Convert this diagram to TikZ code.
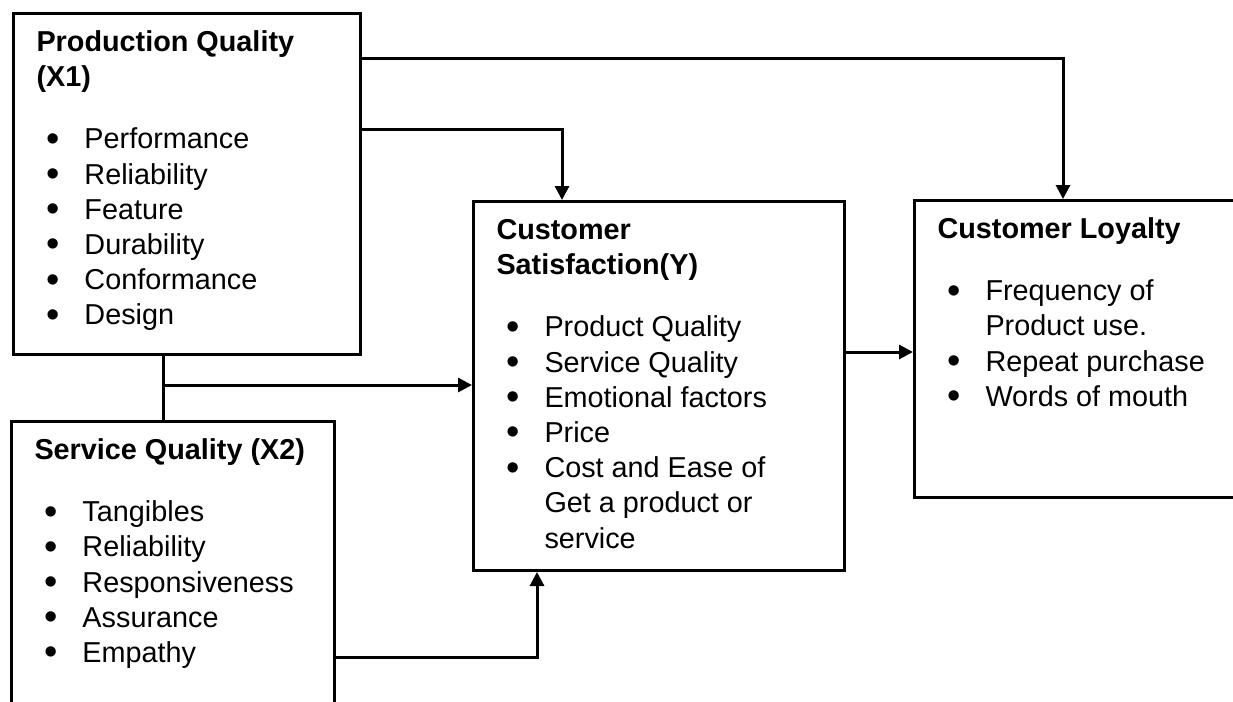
\documentclass[tikz,border=0pt]{standalone}
\usepackage{fontspec}
\setmainfont{Liberation Sans}
\usetikzlibrary{arrows.meta, calc}

\newcommand{\boxbody}[3]{\parbox[t][#1][t]{#2}{\fontsize{14.4pt}{17.6pt}\selectfont\raggedright\parskip=0pt #3}}
\newcommand{\boxtitle}[1]{\rule{0pt}{19pt}\textbf{#1}\par\vspace{13.5pt}}
\newcommand{\bul}[1]{\par\let\\\newline\hangindent=24pt\hangafter=1\noindent
    \makebox[24pt][l]{\hspace{5.2pt}\raisebox{-1.2pt}{\fontsize{19pt}{19pt}\selectfont\textbullet}}#1}

\tikzset{
    block/.style={draw, line width=1.5pt, inner xsep=11.5pt, inner ysep=0pt, anchor=north west},
    link/.style={line width=1.5pt},
    arr/.style={line width=1.5pt, -{Triangle[length=7pt, width=7pt]}}
}

\begin{document}
\begin{tikzpicture}[x=0.5pt, y=-0.5pt]
    \useasboundingbox (0,0) rectangle (1233,702);
    \clip (0,0) rectangle (1233,702);

    % Boxes
    \node[block] (prodq) at (12,12) {\boxbody{170.5pt}{150.5pt}{%
        \boxtitle{Production Quality\\(X1)}
        \bul{Performance}
        \bul{Reliability}
        \bul{Feature}
        \bul{Durability}
        \bul{Conformance}
        \bul{Design}}};

    \node[block] (servq) at (10,420) {\boxbody{170pt}{138.5pt}{%
        \boxtitle{Service Quality (X2)}
        \bul{Tangibles}
        \bul{Reliability}
        \bul{Responsiveness}
        \bul{Assurance}
        \bul{Empathy}}};

    \node[block] (satisf) at (472,200) {\boxbody{184.5pt}{162.5pt}{%
        \boxtitle{Customer\\Satisfaction(Y)}
        \bul{Product Quality}
        \bul{Service Quality}
        \bul{Emotional factors}
        \bul{Price}
        \bul{Cost and Ease of\\Get a product or\\service}}};

    \node[block] (loyal) at (913,199) {\boxbody{148.5pt}{157pt}{%
        \boxtitle{Customer Loyalty}
        \bul{Frequency of\\Product use.}
        \bul{Repeat purchase}
        \bul{Words of mouth}}};

    % Bends of the connectors
    \coordinate (toploy) at (1063,58);
    \coordinate (topsat) at (562,129);
    \coordinate (join) at (163,385);
    \coordinate (botsat) at (537,657);
    \coordinate (midloy) at (0,352);

    % Arrows
    \draw[arr] (prodq.east |- toploy) -- (toploy) -- (toploy |- loyal.north);
    \draw[arr] (prodq.east |- topsat) -- (topsat) -- (topsat |- satisf.north);
    \draw[link] (prodq.south -| join) -- (servq.north -| join);
    \draw[arr] (join) -- (join -| satisf.west);
    \draw[arr] (servq.east |- botsat) -- (botsat) -- (botsat |- satisf.south);
    \draw[arr] (satisf.east |- midloy) -- (loyal.west |- midloy);
\end{tikzpicture}
\end{document}
